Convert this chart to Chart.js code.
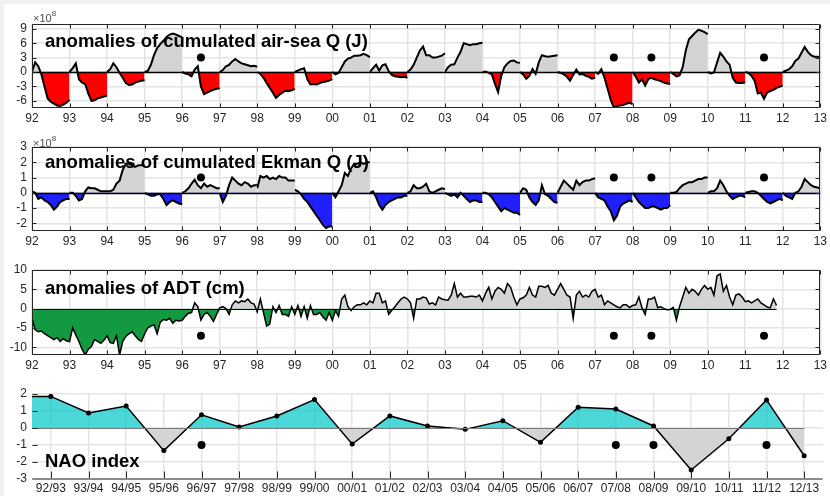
<!DOCTYPE html>
<html>
<head>
<meta charset="utf-8">
<script src="https://cdn.jsdelivr.net/npm/chart.js@4.4.0/dist/chart.umd.min.js"></script>
<style>
  html, body { margin: 0; padding: 0; background: #f0f0f0; }
  #sheet { position: absolute; left: 4px; top: 4px; width: 826px; height: 492px; background: #fff; }
  canvas { position: absolute; left: 0; }
  .lbl { position: absolute; left: 45px; font: bold 18.5px "Liberation Sans", Arial, sans-serif; line-height: 1; color: #000; white-space: nowrap; }
  .exp { position: absolute; left: 33px; font: 11px "Liberation Sans", Arial, sans-serif; line-height: 1; color: #4d4d4d; }
  .exp sup { font-size: 8px; position: relative; top: -1px; }
</style>
</head>
<body>
<div id="sheet"></div>
<canvas id="c1" width="830" height="130" style="top:0"></canvas>
<canvas id="c2" width="830" height="123" style="top:130px"></canvas>
<canvas id="c3" width="830" height="124" style="top:253px"></canvas>
<canvas id="c4" width="830" height="119" style="top:377px"></canvas>
<div class="exp" style="top:11px">&times;10<sup>8</sup></div>
<div class="exp" style="top:136px">&times;10<sup>8</sup></div>
<div class="lbl" style="top:32px">anomalies of cumulated air-sea Q (J)</div>
<div class="lbl" style="top:153px">anomalies of cumulated Ekman Q (J)</div>
<div class="lbl" style="top:279px">anomalies of ADT (cm)</div>
<div class="lbl" style="top:452px">NAO index</div>
<script>
// one row per year, 13 monthly samples (Jan 1 ... Dec 31), x 1e8 J, reset every year
const years = [1992, 1993, 1994, 1995, 1996, 1997, 1998, 1999, 2000, 2001, 2002,
  2003, 2004, 2005, 2006, 2007, 2008, 2009, 2010, 2011, 2012];

const airSeaQ = [
  [0, 2.0, 1.2, -0.5, -3.0, -5.5, -6.2, -6.6, -7.0, -7.1, -6.8, -6.4, -5.8],
  [0, 0.8, 1.8, -1.5, -2.2, -2.5, -4.5, -6.0, -5.9, -5.5, -5.3, -5.1, -4.9],
  [0, 0.6, 1.8, 1.0, -0.2, -1.2, -2.3, -2.7, -2.6, -2.2, -2.0, -1.8, -1.7],
  [0, 0.2, 1.5, 3.5, 5.0, 5.8, 6.5, 7.3, 7.8, 8.0, 7.8, 7.5, 7.2],
  [0, -0.3, -0.5, -0.9, 0.5, 1.2, -3.0, -4.6, -4.3, -4.0, -3.7, -3.5, -3.4],
  [0, 0.4, 1.2, 1.5, 2.2, 2.7, 2.2, 1.8, 1.6, 1.4, 1.2, 1.3, 1.1],
  [0, -0.4, -1.2, -2.3, -3.3, -4.3, -5.4, -4.8, -4.3, -3.9, -4.0, -3.8, -3.5],
  [0, 0.3, 0.6, 0.8, -1.5, -2.6, -2.5, -2.6, -2.3, -2.1, -2.0, -1.8, -1.5],
  [0, -0.5, -0.2, 1.0, 2.2, 2.8, 3.0, 3.4, 3.4, 3.5, 3.8, 3.5, 3.1],
  [0, 0.8, 1.5, 0.3, 1.4, 1.6, 0.2, -0.6, -0.9, -1.0, -1.1, -1.0, -1.2],
  [0, 0.5, 1.5, 3.0, 4.5, 5.3, 3.5, 3.5, 3.0, 3.0, 3.2, 3.4, 3.9],
  [0, 1.0, 1.5, 1.6, 3.0, 4.2, 6.0, 5.8, 5.6, 5.8, 5.8, 6.0, 6.1],
  [0, 0.1, -0.2, -0.5, -2.5, -4.2, -0.8, 1.0, 1.8, 2.3, 2.4, 2.0, 1.9],
  [0, -0.5, -1.4, -0.8, 0.6, -0.4, 2.0, 3.5, 3.3, 3.2, 3.3, 3.4, 3.5],
  [0, -0.2, -0.5, -1.0, -1.8, -0.6, 0.5, -0.5, -0.4, -0.8, -1.0, -1.4, -1.2],
  [0, -0.4, 0.6, -1.2, -3.5, -5.8, -7.4, -7.1, -7.0, -6.9, -6.6, -6.4, -6.7],
  [0, -1.0, -2.2, -1.5, -2.8, -1.5, -1.2, -1.5, -1.7, -1.9, -2.2, -2.4, -2.5],
  [0, -0.4, -0.9, -0.7, 1.0, 4.5, 6.8, 7.5, 8.2, 8.8, 8.6, 8.3, 7.9],
  [0, -0.3, -0.1, 2.0, 4.0, 3.2, 2.2, 1.5, -1.2, -2.2, -2.3, -2.3, -2.2],
  [0, -0.2, -0.8, -1.8, -4.5, -4.3, -5.6, -4.3, -4.0, -3.7, -3.3, -3.1, -2.8],
  [0, 0.3, 0.6, 1.2, 2.3, 2.8, 4.0, 5.2, 4.2, 3.5, 3.2, 3.2, 3.1]
];

const ekmanQ = [
  [0.1, 0, -0.4, -0.3, -0.5, -0.6, -0.8, -1.1, -0.9, -0.6, -0.5, -0.4, -0.4],
  [0, 0, -0.2, -0.5, -0.4, 0.1, 0.35, 0.3, 0.3, 0.2, 0.1, 0.1, 0.1],
  [0.1, 0.1, 0.2, 0.6, 0.8, 1.5, 1.9, 1.9, 1.8, 1.7, 1.8, 1.8, 1.8],
  [0, -0.1, -0.2, -0.2, -0.1, -0.1, -0.4, -0.8, -0.6, -0.5, -0.6, -0.7, -0.75],
  [0, 0.1, 0.3, 0.6, 0.85, 0.5, 0.3, 0.6, 0.4, 0.5, 0.4, 0.3, 0.3],
  [0, -0.6, -0.2, 0.5, 1.0, 0.8, 0.6, 0.5, 0.7, 0.6, 0.4, 0.5, 0.5],
  [0.3, 1.1, 1.0, 1.1, 0.9, 1.0, 0.9, 1.1, 1.0, 1.0, 0.8, 0.8, 0.8],
  [0.2, 0.1, -0.1, -0.4, -0.6, -0.9, -1.2, -1.5, -1.8, -2.1, -2.3, -2.2, -2.2],
  [0, -0.3, 0.1, 0.5, 1.3, 1.1, 1.6, 1.9, 1.9, 2.0, 1.9, 2.0, 2.0],
  [0, 0.1, -0.3, -0.8, -1.1, -0.8, -0.6, -0.5, -0.4, -0.3, -0.3, -0.2, -0.2],
  [0, 0.1, 0.5, 0.3, 0.3, 0.4, 0.6, 0.1, 0, 0.1, 0.2, 0.3, 0.25],
  [0, -0.1, -0.2, -0.1, -0.3, 0, -0.2, -0.4, -0.6, -0.5, -0.5, -0.6, -0.6],
  [0, 0, -0.1, -0.3, -0.6, -0.9, -1.2, -1.0, -1.1, -1.2, -1.3, -1.3, -1.45],
  [0, 0.3, 0.2, -0.3, -0.6, -0.8, -0.5, 0.5, -0.1, -0.2, -0.4, -0.6, -0.65],
  [0, 0.4, 0.8, 0.6, 0.4, 0.2, 0.8, 0.5, 0.7, 0.8, 0.8, 0.9, 0.95],
  [0, -0.3, -0.4, -0.5, -0.9, -1.2, -1.8, -1.5, -0.9, -0.7, -0.6, -0.5, -0.6],
  [0, -0.3, -0.6, -0.8, -1.0, -1.0, -0.9, -0.9, -1.0, -1.1, -1.0, -1.0, -0.8],
  [0, 0, 0.05, 0.3, 0.5, 0.6, 0.7, 0.7, 0.8, 0.9, 0.9, 1.0, 1.0],
  [0, 0.1, 0.1, 0.3, 0.8, 0.5, 0.1, -0.2, -0.4, -0.3, -0.2, -0.2, -0.3],
  [0, 0.05, 0.1, 0.1, 0, -0.2, -0.4, -0.6, -0.7, -0.6, -0.5, -0.4, -0.5],
  [0, -0.2, -0.3, -0.4, 0, 0.1, 0.4, 0.9, 0.7, 0.5, 0.4, 0.35, 0.3]
];

// monthly ADT anomalies (cm) from Jan 1992
const adtStart = 1992;
const adt = [
  -2.5, -5.5, -6, -5.8, -6.5, -7, -7.5, -8, -7.5, -8.5, -7.8, -8.3,
  -8.5, -5, -6.8, -8.5, -10.5, -12, -10.5, -9.8, -8, -8.5, -9, -8.2,
  -7, -8.8, -9, -7, -12, -8.5, -7.2, -6.5, -6, -7, -8, -8.5,
  -6.5, -5, -4.5, -4.2, -6.5, -3.5, -2.8, -3, -2.5, -3.8, -3, -3.2,
  -3, -2, -1.2, -1, 1.5, 0.5, -3, -1.5, -1, -2, -3.3, -1.5,
  0.2, 0.5, 0, -1.5, 1, 2, 1.5, 2, 1.8, 2.5, 1.5, 1.2,
  -0.8, 2.5, -1, -4.5, -4, 0.5, -1, 0.8, -1.5, -1.5, -2, 0.5,
  -1.5, 0.8, -2, 0.5, -2.5, 0.8, -1.5, -1.5, -1, -2.2, -3, -1,
  -3, -0.5, -2, 2.5, 3.5, 0.5, -0.5, 0.5, 1, 1, 1.5, 1,
  2, 1.5, 4, 4, 1.5, 2, -1.5, -0.5, 0.5, 1.5, 2.5, 3,
  2.5, 1.5, -2.5, 2.5, 2.5, 3, 2.8, 1.2, 1.5, 1, 3, 2.5,
  2.3, 2.2, 3.5, 6.5, 3, 4, 3, 3, 3.2, 3.2, 3, 3.5,
  2, 4, 5.5, 2.5, 4.5, 5.5, 5, 4, 6.5, 5.5, 3, 1,
  2.5, 2.8, 3.5, 5.5, 3.5, 3, 5.8, 5.8, 5.5, 6, 4, 3.5,
  5, 6.5, 5, 3.5, 3, -2.5, 3.5, 4.5, 3, 3.5, 3, 4.5,
  5, 3, 3.5, 1, 2, 1.5, 1, 0.5, 0.2, 1, 1, 0.3,
  0.8, 1, 3, 0.2, -1.5, 2.5, 2.5, 3, 0.3, 0.5, 0, -0.3,
  -0.2, 0.3, -3, 0.5, 3, 5.5, 4, 5, 4.5, 3.5, 5, 6,
  5, 5.5, 3.5, 8.5, 9, 4.5, 6, 3, 1, 3.5, 3.8, 3,
  1.8, 2, 1.5, 2, 2.5, 1.5, 1, 0.4, 0.2, 2.5, 0.8
];

// winter NAO index
const naoLabels = ['92/93', '93/94', '94/95', '95/96', '96/97', '97/98', '98/99', '99/00', '00/01',
  '01/02', '02/03', '03/04', '04/05', '05/06', '06/07', '07/08', '08/09', '09/10', '10/11', '11/12', '12/13'];
const nao = [1.86, 0.88, 1.29, -1.33, 0.78, 0.06, 0.71, 1.67, -0.94, 0.71, 0.12,
  -0.08, 0.43, -0.84, 1.22, 1.12, 0.12, -2.47, -0.63, 1.65, -1.63];
const naoLeftEdge = 1.86;

// marked winters (black dots) and the level they sit at in each panel
const markYears = [1996.5, 2007.5, 2008.5, 2011.5];
const markLevel = { q: 3, ekman: 1, adt: -7, nao: -1 };

const GRAY = '#d4d4d4';
const INK = '#262626';

Chart.defaults.font.family = '"Liberation Sans", Arial, Helvetica, sans-serif';
Chart.defaults.font.size = 12;
Chart.defaults.color = INK;

// box, inward ticks and zero line, MATLAB style
const axesDeco = {
  id: 'axesDeco',
  afterDatasetsDraw(chart, args, o) {
    if (!o.zero) return;
    const { ctx, scales: { x, y } } = chart;
    const y0 = Math.round(y.getPixelForValue(0)) + 0.5;
    ctx.save();
    ctx.strokeStyle = o.zero.color;
    ctx.lineWidth = o.zero.width;
    ctx.beginPath();
    ctx.moveTo(x.getPixelForValue(o.zero.from), y0);
    ctx.lineTo(x.getPixelForValue(o.zero.to), y0);
    ctx.stroke();
    ctx.restore();
  },
  afterDraw(chart, args, o) {
    const { ctx, chartArea: a, scales: { x, y } } = chart;
    const L = Math.round(a.left) + 0.5, R = Math.round(a.right) - 0.5;
    const T = Math.round(a.top) + 0.5, B = Math.round(a.bottom) - 0.5;
    ctx.save();
    ctx.strokeStyle = INK;
    ctx.lineWidth = 1;
    ctx.beginPath();
    if (o.box) {
      ctx.rect(L, T, R - L, B - T);
      x.ticks.forEach(t => {
        const px = Math.round(x.getPixelForValue(t.value)) + 0.5;
        ctx.moveTo(px, B); ctx.lineTo(px, B - 4);
        ctx.moveTo(px, T); ctx.lineTo(px, T + 4);
      });
      y.ticks.forEach(t => {
        const py = Math.round(y.getPixelForValue(t.value)) + 0.5;
        ctx.moveTo(L, py); ctx.lineTo(L + 4, py);
        ctx.moveTo(R, py); ctx.lineTo(R - 4, py);
      });
    } else {
      x.ticks.forEach(t => {
        const px = Math.round(x.getPixelForValue(t.value)) + 0.5;
        ctx.moveTo(px, B); ctx.lineTo(px, B - 7);
      });
      y.ticks.forEach(t => {
        const py = Math.round(y.getPixelForValue(t.value)) + 0.5;
        ctx.moveTo(L, py); ctx.lineTo(L + 5, py);
      });
    }
    ctx.stroke();
    if (!o.box) {
      ctx.strokeStyle = '#8a8a8a';
      ctx.lineWidth = 2;
      ctx.beginPath();
      ctx.moveTo(L, B + 0.5); ctx.lineTo(R, B + 0.5);
      ctx.stroke();
    }
    ctx.restore();
  }
};

function yearSets(rows, negColor) {
  return rows.map((row, i) => ({
    data: row.map((v, k) => ({ x: years[i] + k / 12, y: v })),
    borderColor: '#000',
    borderWidth: 2,
    pointRadius: 0,
    tension: 0,
    fill: { target: 'origin', above: GRAY, below: negColor }
  }));
}

function marks(level, r) {
  return {
    data: markYears.map(x => ({ x, y: level })),
    showLine: false,
    pointRadius: r,
    pointBackgroundColor: '#000',
    pointBorderWidth: 0,
    fill: false
  };
}

function makeChart(id, datasets, opt) {
  return new Chart(document.getElementById(id), {
    type: 'line',
    data: { datasets },
    options: {
      responsive: false,
      animation: false,
      layout: { padding: { top: opt.padTop, right: 7, left: 0, bottom: 0 } },
      plugins: {
        legend: { display: false },
        tooltip: { enabled: false },
        axesDeco: { box: opt.box, zero: opt.zero }
      },
      scales: {
        x: {
          type: 'linear',
          min: 1992,
          max: 2013,
          border: { display: false },
          grid: { color: '#e4e4e4', lineWidth: 1.5, drawTicks: false },
          ticks: { autoSkip: false, maxRotation: 0, padding: opt.xPad, callback: opt.xLabel },
          afterBuildTicks: s => { s.ticks = opt.xTicks.map(v => ({ value: v })); },
          afterFit: s => { s.height = opt.xHeight; }
        },
        y: {
          min: opt.yMin,
          max: opt.yMax,
          border: { display: false },
          grid: { color: '#e4e4e4', lineWidth: 1.5, drawTicks: false },
          ticks: { autoSkip: false, padding: 5 },
          afterBuildTicks: s => { s.ticks = opt.yTicks.map(v => ({ value: v })); },
          afterFit: s => { s.width = 32; }
        }
      }
    },
    plugins: [axesDeco]
  });
}

const yearTicks = years.concat([2013]);
const twoDigit = v => String(Math.round(v) % 100).padStart(2, '0');

makeChart('c1', [marks(markLevel.q, 4)].concat(yearSets(airSeaQ, '#ff0000')), {
  padTop: 24, xHeight: 22, xPad: 3, box: true,
  yMin: -7.5, yMax: 10, yTicks: [-6, -3, 0, 3, 6, 9],
  xTicks: yearTicks, xLabel: twoDigit,
  zero: { color: '#000', width: 1.5, from: 1992, to: 2013 }
});

makeChart('c2', [marks(markLevel.ekman, 4)].concat(yearSets(ekmanQ, '#1f1fff')), {
  padTop: 17, xHeight: 22, xPad: 3, box: true,
  yMin: -2.5, yMax: 3, yTicks: [-2, -1, 0, 1, 2, 3],
  xTicks: yearTicks, xLabel: twoDigit,
  zero: { color: '#000', width: 1.5, from: 1992, to: 2013 }
});

makeChart('c3', [marks(markLevel.adt, 4), {
  data: adt.map((v, i) => ({ x: adtStart + i / 12, y: v })),
  borderColor: '#000', borderWidth: 1.5, pointRadius: 0, tension: 0,
  fill: { target: 'origin', above: GRAY, below: '#13993f' }
}], {
  padTop: 17, xHeight: 22, xPad: 3, box: true,
  yMin: -12, yMax: 10, yTicks: [-10, -5, 0, 5, 10],
  xTicks: yearTicks, xLabel: twoDigit,
  zero: { color: '#000', width: 1.2, from: adtStart, to: adtStart + (adt.length - 1) / 12 }
});

const naoX = naoLabels.map((_, i) => 1992.5 + i);
makeChart('c4', [marks(markLevel.nao, 4), {
  data: [{ x: 1992, y: naoLeftEdge }].concat(nao.map((v, i) => ({ x: naoX[i], y: v }))),
  borderColor: '#000', borderWidth: 1.5, tension: 0,
  pointRadius: c => (c.dataIndex === 0 ? 0 : 2.5),
  pointBackgroundColor: '#000', pointBorderWidth: 0,
  fill: { target: 'origin', above: 'rgba(0,200,200,0.7)', below: GRAY }
}], {
  padTop: 17, xHeight: 17, xPad: 2, box: false,
  yMin: -3, yMax: 2, yTicks: [-3, -2, -1, 0, 1, 2],
  xTicks: naoX, xLabel: (v, i) => naoLabels[i],
  zero: { color: '#7a7a7a', width: 1, from: 1992, to: naoX[naoX.length - 1] }
});
</script>
</body>
</html>
